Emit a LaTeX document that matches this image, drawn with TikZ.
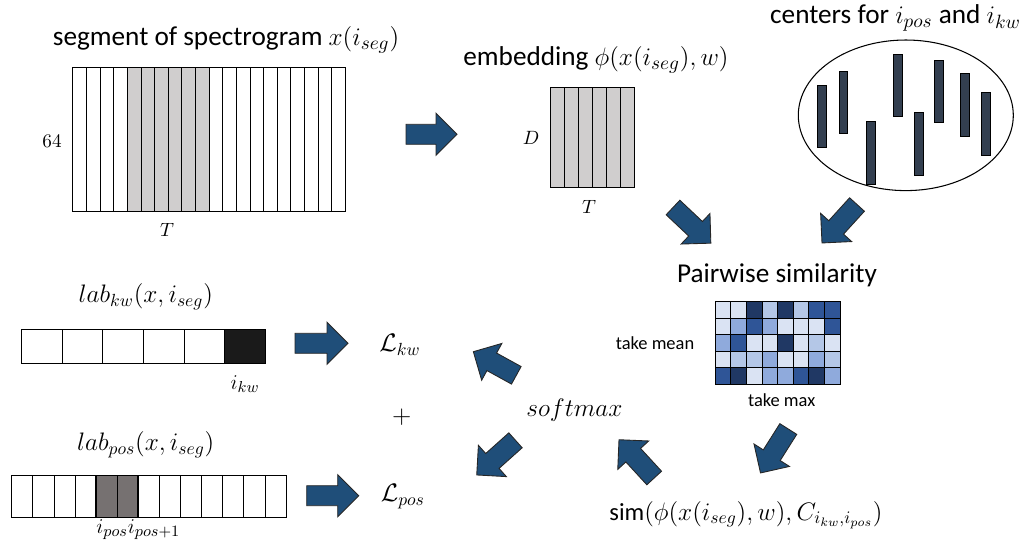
\documentclass[tikz,border=0pt]{standalone}
\usepackage{fontspec}
\setmainfont{Carlito}
\definecolor{arrowblue}{HTML}{1F4E79}
\definecolor{bardark}{HTML}{333F50}
\definecolor{cellgray}{HTML}{D0CECE}
\definecolor{posgray}{HTML}{767171}
\definecolor{kwblack}{HTML}{1A1A1A}
\definecolor{simA}{HTML}{DAE3F3}
\definecolor{simB}{HTML}{B4C7E7}
\definecolor{simC}{HTML}{8FAADC}
\definecolor{simD}{HTML}{2F5597}
\definecolor{simE}{HTML}{203864}
\tikzset{
  title/.style={font=\fontsize{15.5}{18}\selectfont, inner sep=0pt},
  mathlabel/.style={font=\fontsize{14}{16}\selectfont, inner sep=0pt},
  dimlabel/.style={font=\fontsize{11}{13}\selectfont, inner sep=0pt},
  idxlabel/.style={font=\fontsize{13}{15}\selectfont, inner sep=0pt},
  note/.style={font=\fontsize{10.5}{12}\selectfont, inner sep=0pt},
  bar/.style={fill=bardark, draw=black, line width=0.5pt},
}
\def\blockarrow(#1)(#2:#3){\draw[fill=arrowblue, draw=black!85, line width=0.5pt, shift={(#1)}, rotate=#2] (0,-10) -- ({#3-21},-10) -- ({#3-21},-21) -- (#3,0) -- ({#3-21},21) -- ({#3-21},10) -- (0,10) -- cycle;}

\begin{document}
\begin{tikzpicture}[x=0.02cm, y=-0.02cm]
		%%%%% START %%%%%
		\useasboundingbox (0,0) rectangle (1031,545);
		
		% spectrogram segment
		\node[title] (segtitle) at (226,40) {segment of spectrogram $x(i_{seg})$};
		\draw[fill=cellgray] (127.2,67.7) rectangle (209,211.7);
		\foreach \i in {0,...,19}
			\draw ({72.7+13.63*\i},67.7) rectangle ++(13.63,144);
		\node[dimlabel] (segh) at (52,141.7) {$64$};
		\node[dimlabel] (segw) at (167,230) {$T$};
		
		\blockarrow(406,134.3)(0:51);
		
		% embedding
		\node[title] (embtitle) at (596,60) {embedding $\phi(x(i_{seg}),w)$};
		\foreach \i in {0,...,5}
			\draw[fill=cellgray] ({550+14.05*\i},87.7) rectangle ++(14.05,100);
		\node[dimlabel] (embh) at (531,138) {$D$};
		\node[dimlabel] (embw) at (589,206.7) {$T$};
		
		% centers
		\node[title] (centitle) at (895.5,18) {centers for $i_{pos}$ and $i_{kw}$};
		\draw[line width=0.6pt] (905.8,115.3) ellipse ({107.5*0.02cm} and {75.3*0.02cm});
		\draw[bar] (817.3,85) rectangle ++(8.8,62.7);
		\draw[bar] (839,71) rectangle ++(8.8,62.7);
		\draw[bar] (866.9,121.7) rectangle ++(8.8,62.7);
		\draw[bar] (893.4,54) rectangle ++(8.8,62.7);
		\draw[bar] (914.2,112.9) rectangle ++(8.8,62.7);
		\draw[bar] (934.6,60) rectangle ++(8.8,62.7);
		\draw[bar] (960.9,73.3) rectangle ++(8.8,62.7);
		\draw[bar] (981.9,92.7) rectangle ++(8.8,62.7);
		
		\blockarrow(673,207.5)(-43.3:52);
		\blockarrow(857,204.5)(-132.3:52);
		
		% pairwise similarity
		\node[title] (simtitle) at (777,275) {Pairwise similarity};
		\foreach \c [count=\i from 0] in {simA,simA,simE,simB,simE,simB,simD,simD}
			\draw[fill=\c] ({715+15.625*\i},301.7) rectangle ++(15.625,16.52);
		\foreach \c [count=\i from 0] in {simA,simC,simD,simC,simA,simA,simA,simD}
			\draw[fill=\c] ({715+15.625*\i},318.22) rectangle ++(15.625,16.52);
		\foreach \c [count=\i from 0] in {simC,simD,simA,simA,simE,simA,simB,simA}
			\draw[fill=\c] ({715+15.625*\i},334.74) rectangle ++(15.625,16.52);
		\foreach \c [count=\i from 0] in {simA,simB,simB,simC,simA,simA,simC,simB}
			\draw[fill=\c] ({715+15.625*\i},351.26) rectangle ++(15.625,16.52);
		\foreach \c [count=\i from 0] in {simD,simE,simA,simC,simC,simD,simE,simC}
			\draw[fill=\c] ({715+15.625*\i},367.78) rectangle ++(15.625,16.52);
		\node[note] (mean) at (655,343) {take mean};
		\node[note] (max) at (781.7,400) {take max};
		
		\blockarrow(788.3,429)(-122.3:52);
		\node[mathlabel] (sim) at (746,515) {sim$(\phi(x(i_{seg}),w),C_{i_{kw},i_{pos}})$};
		
		\blockarrow(654.2,478)(132.6:52);
		\node[mathlabel] (soft) at (574.5,410) {$softmax$};
		\blockarrow(516.3,375.3)(151.2:49);
		\blockarrow(515.5,440.3)(-138.2:52);
		
		% losses
		\node[mathlabel] (lkw) at (400,345) {$\mathcal{L}_{kw}$};
		\node[mathlabel] (plus) at (401.7,416.7) {$+$};
		\node[mathlabel] (lpos) at (402.8,496.7) {$\mathcal{L}_{pos}$};
		\blockarrow(295,343.3)(0:53);
		\blockarrow(306.7,495.7)(0:52);
		
		% keyword label
		\node[mathlabel] (labkw) at (145.8,296.7) {$lab_{kw}(x,i_{seg})$};
		\foreach \i in {0,...,4}
			\draw ({21.7+40.55*\i},329) rectangle ++(40.55,34.3);
		\draw[fill=kwblack] (224.45,329) rectangle ++(40.55,34.3);
		\node[idxlabel] (ikw) at (245,384) {$i_{kw}$};
		
		% position label
		\node[mathlabel] (labpos) at (145.8,445) {$lab_{pos}(x,i_{seg})$};
		\draw[fill=posgray] (95.1,475) rectangle (137.3,517.3);
		\foreach \i in {0,...,12}
			\draw ({11.7+21.1*\i},475) rectangle ++(21.1,42.3);
		\node[idxlabel] (ipos) at (138.3,530) {$i_{pos}i_{pos+1}$};
		
		%%%%% END %%%%%
	\end{tikzpicture}
\end{document}
